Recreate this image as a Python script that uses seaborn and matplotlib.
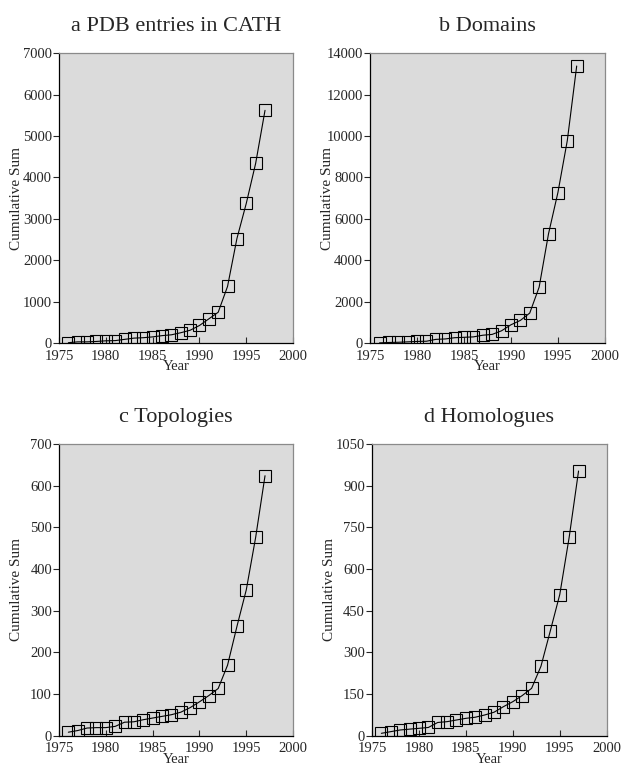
import pandas as pd
import seaborn as sns
import matplotlib.pyplot as plt

# Years covered by the cumulative counts
years = list(range(1976, 1998))

# Cumulative sums
pdb_entries = [10, 30, 30, 40, 55, 60, 90, 120, 130, 150, 180, 200, 250, 310,
               425, 585, 745, 1370, 2525, 3375, 4340, 5620]
domains = [10, 30, 40, 60, 80, 90, 180, 200, 260, 280, 300, 380, 420, 595,
           885, 1095, 1450, 2700, 5280, 7270, 9780, 13380]
topologies = [8, 12, 18, 19, 19, 22, 32, 33, 38, 42, 46, 50, 56, 67,
              81, 96, 113, 169, 262, 350, 476, 624]
homologues = [8, 14, 20, 23, 26, 29, 47, 50, 56, 62, 66, 74, 84, 104,
              122, 144, 170, 250, 378, 508, 714, 953]

titles = ['a PDB entries in CATH', 'b Domains', 'c Topologies', 'd Homologues']
series = [pdb_entries, domains, topologies, homologues]
y_max = [7000, 14000, 700, 1050]
y_step = [1000, 2000, 100, 150]
x_ticks = [1975, 1980, 1985, 1990, 1995, 2000]

sns.set_style('ticks')
plt.rcParams['font.family'] = ['Liberation Serif', 'DejaVu Serif']

fig = plt.figure(figsize=(6.21, 7.71), dpi=100)

# Axes positions (left, bottom, width, height) in figure fractions
positions = [
    [0.095, 0.555, 0.377, 0.376],
    [0.596, 0.555, 0.378, 0.376],
    [0.095, 0.046, 0.377, 0.378],
    [0.599, 0.046, 0.378, 0.378],
]

for pos, title, values, ymax, ystep in zip(positions, titles, series, y_max, y_step):
    ax = fig.add_axes(pos)
    df = pd.DataFrame({'Year': years, 'Cumulative Sum': values})
    ax.set_facecolor('#dbdbdb')

    sns.lineplot(data=df, x='Year', y='Cumulative Sum', ax=ax,
                 color='black', linewidth=0.8, marker='s', markersize=8,
                 markerfacecolor='none', markeredgecolor='black',
                 markeredgewidth=0.8)

    ax.set_xlim(1975, 2000)
    ax.set_ylim(0, ymax)
    ax.set_xticks(x_ticks)
    ax.set_yticks(range(0, ymax + 1, ystep))

    ax.set_title(title, fontsize=16, pad=16)
    ax.set_xlabel('Year', fontsize=10.5, labelpad=-2)
    ax.set_ylabel('Cumulative Sum', fontsize=11)
    # label sits at a fixed distance from the axis, as in the original
    ax.yaxis.set_label_coords(-0.155, 0.5)

    ax.tick_params(axis='y', direction='out', length=4, width=0.8,
                   labelsize=10.5, pad=1)
    ax.tick_params(axis='x', direction='in', length=4, width=0.8,
                   labelsize=10.5, pad=5)

    for side in ['left', 'bottom']:
        ax.spines[side].set_color('black')
        ax.spines[side].set_linewidth(0.9)
    for side in ['top', 'right']:
        ax.spines[side].set_visible(True)
        ax.spines[side].set_color('#8a8a8a')
        ax.spines[side].set_linewidth(0.9)

fig.savefig('out.png', dpi=100)
